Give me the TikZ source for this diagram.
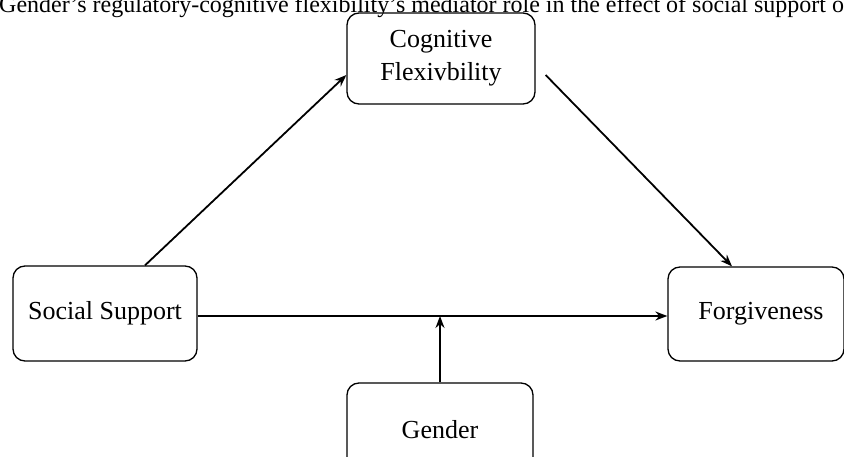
\documentclass[tikz,border=0pt]{standalone}
\usepackage{fontspec}
\setmainfont{Liberation Serif}
\usetikzlibrary{arrows.meta}

\begin{document}
\begin{tikzpicture}[x=1pt, y=-1pt,
    box/.style={draw, line width=1.3pt, rounded corners=12pt, align=center,
        font=\fontsize{26}{33}\selectfont},
    link/.style={line width=1.8pt, -{Stealth[length=12pt,width=9pt]}}]
    \useasboundingbox (0,0) rectangle (844,457);

    % Title
    \node[anchor=base west, inner sep=0pt, font=\fontsize{24}{28}\selectfont] (title) at (-1,13)
        {Gender’s regulatory-cognitive flexibility’s mediator role in the effect of social support on forgiveness};

    % Boxes
    \node[box, minimum width=188pt, minimum height=91pt] (cog) at (441,58.5) {Cognitive\\Flexivbility};
    \node[box, minimum width=184pt, minimum height=95pt] (soc) at (105,313.5) {Social Support};
    \node[box, minimum width=176pt, minimum height=94pt] (forg) at (756,314) {\hspace{10pt}Forgiveness};
    \node[box, minimum width=186pt, minimum height=94pt] (gend) at (440,430) {Gender};

    % Arrows
    \draw[link] ([xshift=40pt]soc.north) -- ([yshift=-16.5pt]cog.west);
    \draw[link] ([xshift=10pt,yshift=-16.5pt]cog.east) -- ([xshift=-24pt]forg.north);
    \draw[link] ([yshift=-2.5pt]soc.east) -- ([yshift=-2pt]forg.west);
    \coordinate (mod) at ([yshift=-2.5pt]soc.east -| gend.north);
    \draw[link] (gend.north) -- (mod);
\end{tikzpicture}
\end{document}
